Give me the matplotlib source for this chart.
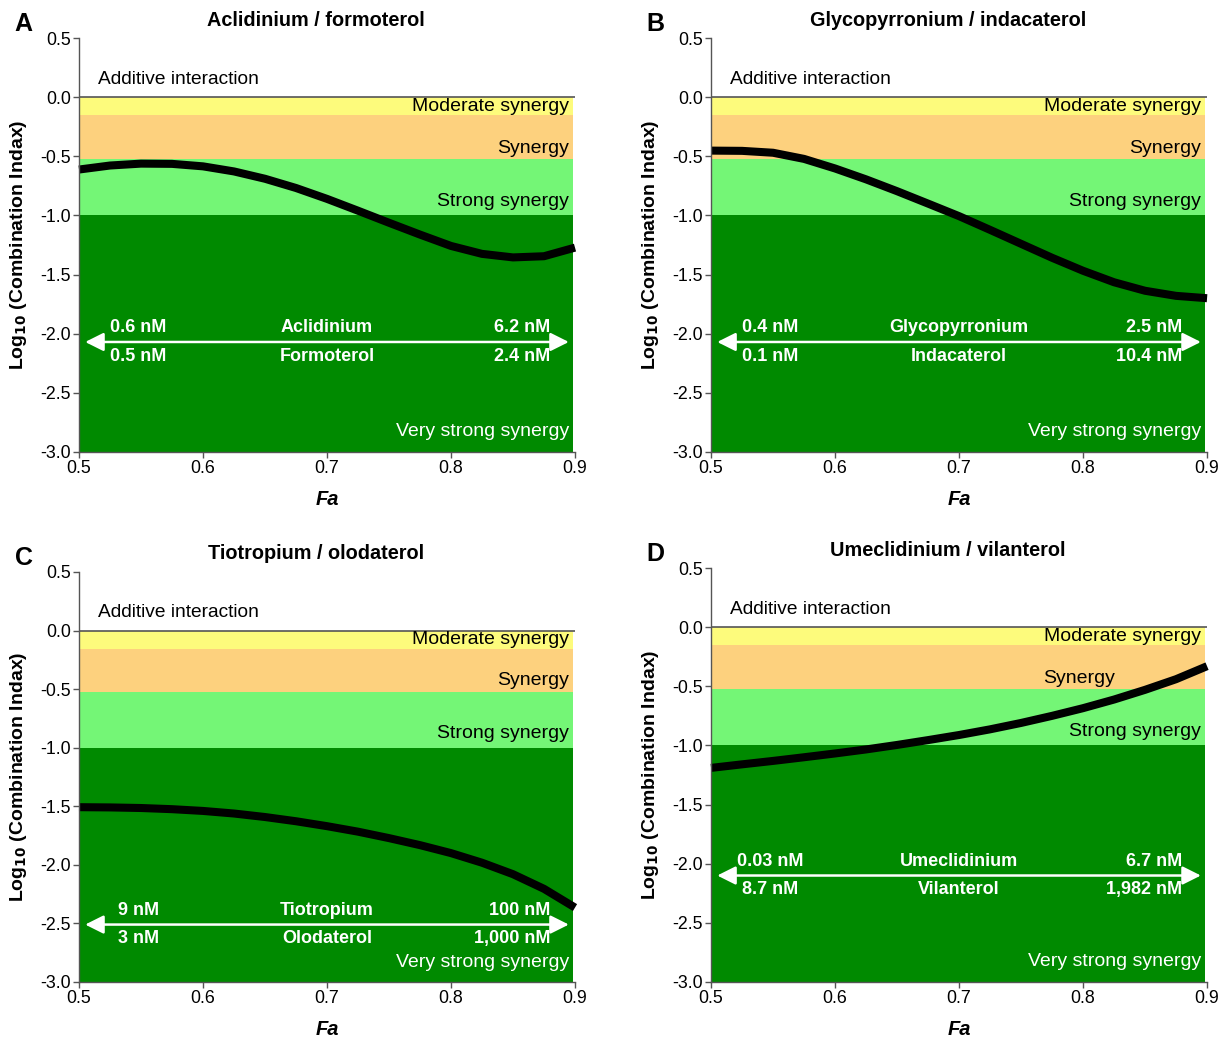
import matplotlib
matplotlib.use("Agg")
import matplotlib.pyplot as plt

plt.rcParams['font.family'] = ['Liberation Sans', 'DejaVu Sans']

# ---------------- data ----------------
fa = [0.500, 0.525, 0.550, 0.575, 0.600, 0.625, 0.650, 0.675, 0.700,
      0.725, 0.750, 0.775, 0.800, 0.825, 0.850, 0.875, 0.900]

logci_A = [-0.612, -0.578, -0.562, -0.564, -0.585, -0.628, -0.690, -0.768, -0.860,
           -0.960, -1.062, -1.162, -1.258, -1.325, -1.355, -1.345, -1.272]
logci_B = [-0.452, -0.454, -0.470, -0.522, -0.603, -0.695, -0.795, -0.900, -1.006,
           -1.122, -1.240, -1.358, -1.468, -1.565, -1.637, -1.680, -1.700]
logci_C = [-1.508, -1.510, -1.515, -1.525, -1.540, -1.562, -1.592, -1.628, -1.670,
           -1.717, -1.772, -1.832, -1.900, -1.982, -2.080, -2.205, -2.365]
logci_D = [-1.190, -1.160, -1.131, -1.100, -1.068, -1.034, -0.996, -0.955, -0.912,
           -0.864, -0.810, -0.750, -0.685, -0.612, -0.530, -0.440, -0.330]

titles = ["Aclidinium / formoterol", "Glycopyrronium / indacaterol",
          "Tiotropium / olodaterol", "Umeclidinium / vilanterol"]
letters = ["A", "B", "C", "D"]
drug1 = ["Aclidinium", "Glycopyrronium", "Tiotropium", "Umeclidinium"]
drug2 = ["Formoterol", "Indacaterol", "Olodaterol", "Vilanterol"]
low1 = ["0.6 nM", "0.4 nM", "9 nM", "0.03 nM"]
high1 = ["6.2 nM", "2.5 nM", "100 nM", "6.7 nM"]
low2 = ["0.5 nM", "0.1 nM", "3 nM", "8.7 nM"]
high2 = ["2.4 nM", "10.4 nM", "1,000 nM", "1,982 nM"]
arrow_y = [-2.07, -2.07, -2.51, -2.10]

# zone boundaries: log10 CI of 1, 0.7, 0.3, 0.1
zone_edges = [0.0, -0.155, -0.523, -1.0, -3.0]
zone_colors = ["#FDFB7C", "#FDD17E", "#74F676", "#008A00"]
zone_names = ["Moderate synergy", "Synergy", "Strong synergy", "Very strong synergy"]
zone_label_y = [-0.08, -0.43, -0.88, -2.83]

curves = [logci_A, logci_B, logci_C, logci_D]

# axes positions [left, bottom, width, height] in figure fraction
positions = [
    [0.0648, 0.5650, 0.4069, 0.3984],
    [0.5833, 0.5650, 0.4069, 0.3984],
    [0.0648, 0.0549, 0.4069, 0.3946],
    [0.5833, 0.0549, 0.4069, 0.3984],
]

fig = plt.figure(figsize=(12.19, 10.39), dpi=100)
spine_col = "#555555"

for i in range(4):
    ax = fig.add_axes(positions[i])
    ax.set_xlim(0.5, 0.9)
    ax.set_ylim(-3.0, 0.5)
    # zones
    for k in range(4):
        ax.fill_between([0.5, 0.898], zone_edges[k + 1], zone_edges[k],
                        color=zone_colors[k], lw=0, zorder=1)
    ax.plot([0.5, 0.9], [0, 0], color=spine_col, lw=1.2, zorder=2)
    # curve
    ax.plot(fa, curves[i], color="black", lw=5.8, zorder=4,
            solid_capstyle="butt", solid_joinstyle="round", clip_on=False)

    # zone text
    ax.text(0.515, 0.15, "Additive interaction", fontsize=13.8, ha="left",
            va="center", color="black", zorder=5)
    for k in range(4):
        x = 0.895
        if i == 3 and k == 1:
            x = 0.826
        ax.text(x, zone_label_y[k], zone_names[k], fontsize=14, ha="right",
                va="center", color="white" if k == 3 else "black", zorder=5)

    # concentration arrow
    ay = arrow_y[i]
    ax.annotate("", xy=(0.505, ay), xytext=(0.895, ay),
                arrowprops=dict(arrowstyle="<|-|>,head_length=0.8,head_width=0.4",
                                color="white", lw=1.8,
                                mutation_scale=14, shrinkA=0, shrinkB=0),
                zorder=5)
    dy = 0.12
    tk = dict(fontsize=13, fontweight="bold", color="white", va="center", zorder=5)
    ax.text(0.548, ay + dy, low1[i], ha="center", **tk)
    ax.text(0.548, ay - dy, low2[i], ha="center", **tk)
    ax.text(0.70, ay + dy, drug1[i], ha="center", **tk)
    ax.text(0.70, ay - dy, drug2[i], ha="center", **tk)
    ax.text(0.880, ay + dy, high1[i], ha="right", **tk)
    ax.text(0.880, ay - dy, high2[i], ha="right", **tk)

    # axes styling
    for s in ["top", "right"]:
        ax.spines[s].set_visible(False)
    for s in ["left", "bottom"]:
        ax.spines[s].set_color(spine_col)
        ax.spines[s].set_linewidth(1.0)
        ax.spines[s].set_zorder(6)
    ax.set_xticks([0.5, 0.6, 0.7, 0.8, 0.9])
    ax.set_xticklabels(["0.5", "0.6", "0.7", "0.8", "0.9"])
    ax.set_yticks([0.5, 0.0, -0.5, -1.0, -1.5, -2.0, -2.5, -3.0])
    ax.set_yticklabels(["0.5", "0.0", "-0.5", "-1.0", "-1.5", "-2.0", "-2.5", "-3.0"])
    ax.tick_params(direction="out", length=4, width=1, color=spine_col,
                   labelsize=12.8, pad=2)
    ax.set_xlabel("Fa", fontsize=14.5, fontweight="bold", style="italic", labelpad=9)
    ax.set_ylabel(r"Log$_{\mathbf{10}}$ (Combination Indax)", fontsize=14,
                  fontweight="bold", labelpad=8)
    ax.set_title(titles[i], fontsize=14.3, fontweight="bold", pad=9, x=0.478)
    ax.text(-0.13, 1.035, letters[i], transform=ax.transAxes, fontsize=18,
            fontweight="bold", ha="left", va="center")

fig.savefig("out.png", dpi=100)
